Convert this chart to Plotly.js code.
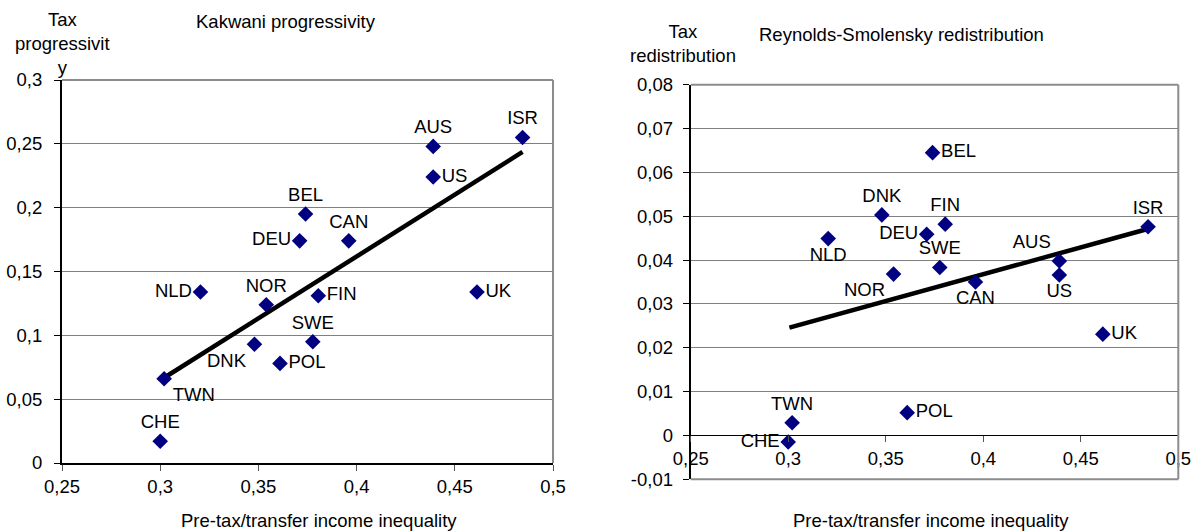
<!DOCTYPE html>
<html>
<head>
<meta charset="utf-8">
<script src="https://cdn.plot.ly/plotly-3.0.1.min.js"></script>
<style>html,body{margin:0;padding:0;background:#fff;} #chart{width:1198px;height:532px;}</style>
</head>
<body>
<div id="chart"></div>
<script>
// ---- data ----
const countries  = ['CHE','TWN','NLD','NOR','DNK','POL','DEU','BEL','CAN','AUS','US','ISR','FIN','SWE','UK'];
const inequality = [0.300,0.302,0.3205,0.354,0.348,0.361,0.371,0.374,0.396,0.439,0.439,0.4845,0.3805,0.3777,0.4613];
const kakwani    = [0.017,0.066,0.134,0.124,0.093,0.078,0.174,0.195,0.174,0.248,0.224,0.255,0.131,0.095,0.134];
const reynolds   = [-0.0015,0.0029,0.0449,0.0368,0.0503,0.0052,0.0459,0.0645,0.035,0.0398,0.0366,0.0476,0.0482,0.0383,0.0231];
const kakwaniTrendX  = [0.300, 0.4845];
const kakwaniTrendY  = [0.0648, 0.2437];
const reynoldsTrendX = [0.3006, 0.4852];
const reynoldsTrendY = [0.0246, 0.0472];
const xTickVals = [0.25,0.3,0.35,0.4,0.45,0.5];
const rsTickVals  = [-0.01,0,0.01,0.02,0.03,0.04,0.05,0.06,0.07,0.08];
const rsTickText  = ['-0,01','0','0,01','0,02','0,03','0,04','0,05','0,06','0,07','0,08'];

const FONT = 'Liberation Sans, Arial, sans-serif';
const FS = 18.5;
const NAVY = '#000080';
const GRID = '#808080';
const BORDER = '#8c8c8c';

const posLeft  = ['top center','bottom right','middle left','top center','bottom left','middle right','middle left','top center','top center','top center','middle right','top center','middle right','top center','middle right'];
const posRight = ['middle left','top center','bottom center','bottom left','top center','middle right','middle left','middle right','bottom center','top left','bottom center','top center','top center','top center','middle right'];

const traces = [
  {x: kakwaniTrendX, y: kakwaniTrendY, xaxis:'x', yaxis:'y', mode:'lines', line:{color:'#000', width:4.5}, hoverinfo:'skip'},
  {x: inequality, y: kakwani, text: countries, xaxis:'x', yaxis:'y', mode:'markers+text', textposition: posLeft,
   marker:{symbol:'diamond', size:12, color:NAVY}, textfont:{family:FONT, size:FS, color:'#000'}, cliponaxis:false},
  {x: reynoldsTrendX, y: reynoldsTrendY, xaxis:'x2', yaxis:'y2', mode:'lines', line:{color:'#000', width:4.5}, hoverinfo:'skip'},
  {x: inequality, y: reynolds, text: countries, xaxis:'x2', yaxis:'y2', mode:'markers+text', textposition: posRight,
   marker:{symbol:'diamond', size:12, color:NAVY}, textfont:{family:FONT, size:FS, color:'#000'}, cliponaxis:false}
];

const tickFont = {family:FONT, size:FS, color:'#000'};
const H = 532, W = 1198;
const px = v => v / W, py = v => 1 - v / H;

const layout = {
  width: W, height: H,
  margin: {l:0, r:0, t:0, b:0},
  paper_bgcolor:'#fff', plot_bgcolor:'#fff',
  showlegend:false,
  separators:',.',
  font:{family:FONT, size:FS, color:'#000'},
  xaxis: {domain:[px(62), px(553)], anchor:'y', range:[0.25,0.5], tickvals:xTickVals,
          showgrid:false, zeroline:false, showline:true, linecolor:'#000', linewidth:2,
          ticks:'outside', ticklen:6, tickcolor:'#555', tickfont:tickFont, ticklabelstandoff:0},
  yaxis: {domain:[py(463), py(80)], anchor:'x', range:[0,0.3], dtick:0.05, tick0:0,
          showgrid:true, gridcolor:GRID, gridwidth:1, zeroline:false, showline:true, linecolor:'#000', linewidth:2,
          ticks:'outside', ticklen:6, tickcolor:'#000', tickfont:tickFont, ticklabelstandoff:8},
  xaxis2: {domain:[px(690.7), px(1178.3)], anchor:'free', position: py(435.3), range:[0.25,0.5], tickvals:xTickVals,
          showgrid:false, zeroline:false, showline:false,
          ticks:'outside', ticklen:6, tickcolor:'#555', tickfont:tickFont, ticklabelstandoff:0},
  yaxis2: {domain:[py(479.3), py(84.7)], anchor:'x2', range:[-0.01,0.08], tickmode:'array', tickvals:rsTickVals, ticktext:rsTickText,
          showgrid:true, gridcolor:GRID, gridwidth:1, zeroline:true, zerolinecolor:'#000', zerolinewidth:1.5,
          showline:true, linecolor:'#000', linewidth:2,
          ticks:'outside', ticklen:6, tickcolor:'#000', tickfont:tickFont, ticklabelstandoff:6},
  shapes: [
    {type:'line', xref:'x domain', yref:'y domain', x0:0, x1:1, y0:1, y1:1, line:{color:BORDER, width:2}},
    {type:'line', xref:'x domain', yref:'y domain', x0:1, x1:1, y0:0, y1:1, line:{color:BORDER, width:2}},
    {type:'line', xref:'x2 domain', yref:'y2 domain', x0:0, x1:1, y0:1, y1:1, line:{color:BORDER, width:2}},
    {type:'line', xref:'x2 domain', yref:'y2 domain', x0:1, x1:1, y0:0, y1:1, line:{color:BORDER, width:2}},
    {type:'line', xref:'x2 domain', yref:'y2 domain', x0:0, x1:1, y0:0, y1:0, line:{color:BORDER, width:2}}
  ],
  annotations: [
    {text:'Kakwani progressivity', xref:'paper', yref:'paper', x:px(285.5), y:py(21), xanchor:'center', yanchor:'middle', showarrow:false, font:{family:FONT, size:FS}},
    {text:'Reynolds-Smolensky redistribution', xref:'paper', yref:'paper', x:px(901), y:py(35), xanchor:'center', yanchor:'middle', showarrow:false, font:{family:FONT, size:FS}},
    {text:'Tax<br>progressivit<br>y', xref:'paper', yref:'paper', x:px(62), y:py(44), xanchor:'center', yanchor:'middle', showarrow:false, font:{family:FONT, size:FS}},
    {text:'Tax<br>redistribution', xref:'paper', yref:'paper', x:px(682.7), y:py(44), xanchor:'center', yanchor:'middle', showarrow:false, font:{family:FONT, size:FS}},
    {text:'Pre-tax/transfer income inequality', xref:'paper', yref:'paper', x:px(319), y:py(520), xanchor:'center', yanchor:'middle', showarrow:false, font:{family:FONT, size:FS}},
    {text:'Pre-tax/transfer income inequality', xref:'paper', yref:'paper', x:px(931), y:py(520), xanchor:'center', yanchor:'middle', showarrow:false, font:{family:FONT, size:FS}}
  ]
};

Plotly.newPlot('chart', traces, layout, {staticPlot:true, displayModeBar:false});
</script>
</body>
</html>
